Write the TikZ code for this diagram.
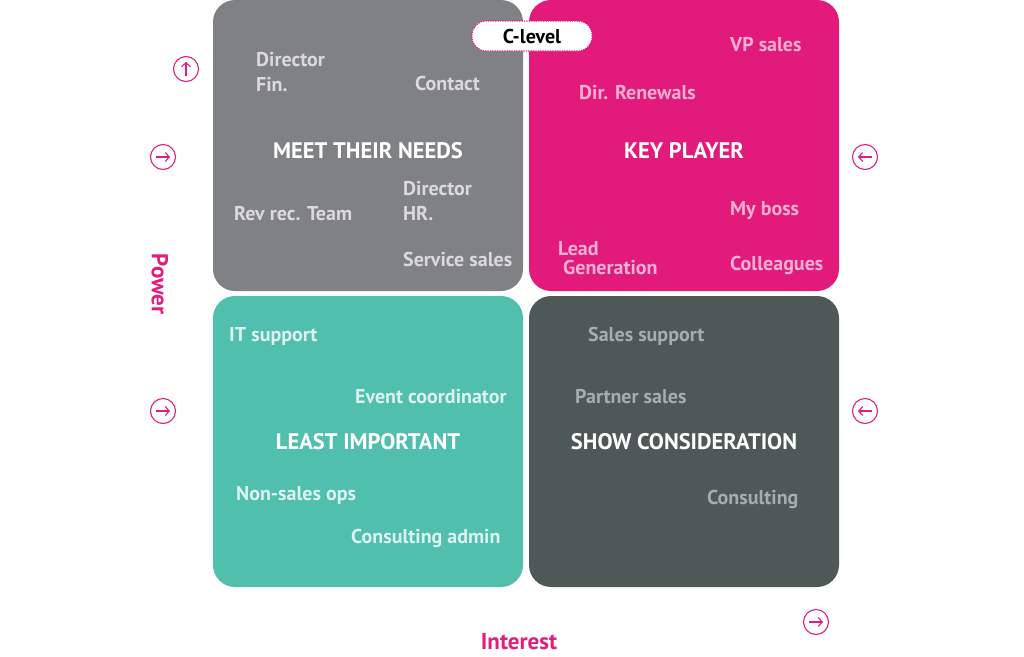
\documentclass[tikz,border=0pt]{standalone}
\usepackage{fontspec}
\setmainfont{PT Sans}
\usetikzlibrary{arrows.meta}
\definecolor{qgray}{HTML}{808185}
\definecolor{qpink}{HTML}{E21A7B}
\definecolor{qteal}{HTML}{50BFAE}
\definecolor{qdark}{HTML}{4E5857}
\definecolor{tgray}{HTML}{DADADC}
\definecolor{tpink}{HTML}{F7B0D2}
\definecolor{tteal}{HTML}{DDF2EE}
\definecolor{tdark}{HTML}{A6ADAC}
\definecolor{axpink}{HTML}{E31D7E}
\begin{document}
\begin{tikzpicture}[x=1pt,y=-1pt,
  quad/.style={rounded corners=22pt},
  lbl/.style={font=\bfseries\fontsize{20}{25}\selectfont, inner sep=0pt, align=left, anchor=west},
  head/.style={font=\bfseries\fontsize{22.5}{24}\selectfont, inner sep=0pt, text=white},
  circ/.style={circle, draw=axpink, line width=1.1pt, minimum size=25pt, inner sep=0pt},
  arr/.style={draw=axpink, line width=1.1pt, -{Straight Barb[length=4pt,width=9pt]}},
  axis/.style={font=\bfseries\fontsize{23}{26}\selectfont, text=axpink, inner sep=0pt}
]
\useasboundingbox (0,0) rectangle (1024,656);
% quadrants
\fill[qgray, quad] (213,0) rectangle (523,291);
\fill[qpink, quad] (529,0) rectangle (839,291);
\fill[qteal, quad] (213,296) rectangle (523,587);
\fill[qdark, quad] (529,296) rectangle (839,587);

% top-left
\node[lbl, text=tgray] (dfin) at (256,72) {Director\\Fin.};
\node[lbl, text=tgray] (contact) at (415,83.5) {Contact};
\node[head] (meet) at (368,150.5) {MEET THEIR NEEDS};
\node[lbl, text=tgray] (dhr) at (403,201) {Director\\HR.};
\node[lbl, text=tgray] (revrec) at (234,213.5) {Rev rec. Team};
\node[lbl, text=tgray] (service) at (403,259.5) {Service sales};

% top-right
\node[lbl, text=tpink] (vp) at (730,44.5) {VP sales};
\node[lbl, text=tpink] (renew) at (579,92.5) {Dir. Renewals};
\node[head] (key) at (684,150.5) {KEY PLAYER};
\node[lbl, text=tpink] (boss) at (730,210.5) {My boss};
\node[lbl, text=tpink, font=\bfseries\fontsize{20}{19}\selectfont] (lead) at (558,258) {Lead\\\hspace*{5pt}Generation};
\node[lbl, text=tpink] (coll) at (730,265.5) {Colleagues};

% bottom-left
\node[lbl, text=tteal] (it) at (229,336.5) {IT support};
\node[lbl, text=tteal] (event) at (355,396.5) {Event coordinator};
\node[head] (least) at (368,441.5) {LEAST IMPORTANT};
\node[lbl, text=tteal] (nonsales) at (236,495.5) {Non-sales ops};
\node[lbl, text=tteal] (cadmin) at (351,538.5) {Consulting admin};

% bottom-right
\node[lbl, text=tdark] (ssupport) at (588,336.5) {Sales support};
\node[lbl, text=tdark] (partner) at (575,396.5) {Partner sales};
\node[head] (show) at (684,441.5) {SHOW CONSIDERATION};
\node[lbl, text=tdark] (consult) at (707,499.5) {Consulting};

% C-level
\node[draw=axpink, fill=white, line width=1.1pt, dash pattern=on 1.3pt off 1.1pt,
      rounded corners=14pt, minimum width=120pt, minimum height=30pt,
      font=\bfseries\fontsize{20}{22}\selectfont, text=black] (clevel) at (532,36) {C-level};

% axis circles
\node[circ] (c1) at (186,69) {};
\draw[arr] ([yshift=-7pt]c1.center) -- ([yshift=7pt]c1.center);
\node[circ] (c2) at (163,157) {};
\draw[arr] ([xshift=-7pt]c2.center) -- ([xshift=7pt]c2.center);
\node[circ] (c3) at (865,157) {};
\draw[arr] ([xshift=7pt]c3.center) -- ([xshift=-7pt]c3.center);
\node[circ] (c4) at (163,411) {};
\draw[arr] ([xshift=-7pt]c4.center) -- ([xshift=7pt]c4.center);
\node[circ] (c5) at (865,411) {};
\draw[arr] ([xshift=7pt]c5.center) -- ([xshift=-7pt]c5.center);
\node[circ] (c6) at (816,622) {};
\draw[arr] ([xshift=-7pt]c6.center) -- ([xshift=7pt]c6.center);

\node[axis, rotate=-90] (power) at (160,284) {Power};
\node[axis] (interest) at (519,642) {Interest};
\end{tikzpicture}
\end{document}
